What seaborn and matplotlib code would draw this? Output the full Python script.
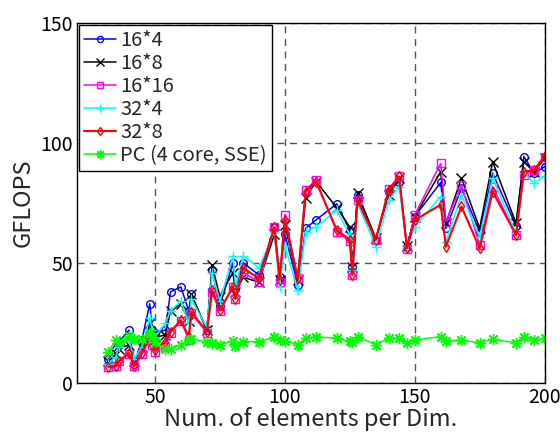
import numpy as np
import pandas as pd
import matplotlib
matplotlib.use('Agg')
import matplotlib.pyplot as plt
import seaborn as sns

# problem sizes (elements per dimension)
sizes = [32, 35, 36, 40, 42, 45, 48, 49, 50, 54, 56, 60, 63, 64, 70, 72, 75, 80, 81, 84,
         90, 96, 98, 100, 105, 108, 112, 120, 125, 126, 128, 135, 140, 144, 147, 150,
         160, 162, 168, 175, 180, 189, 192, 196, 200]

gf_16x4 = [10, 14, 17, 22, 8, 18, 33, 22, 21, 22, 38, 40, 30, 37, 22, 47, 32, 50, 39, 50,
           45, 65, 44, 62, 41, 64.4, 67.9, 74.6, 63.7, 48.5, 78.3, 59.6, 79.7, 83.9, 56.8, 69.3,
           83.5, 64.4, 81.1, 63, 87.4, 65.4, 94.3, 87.4, 90.1]
gf_16x8 = [9, 12, 14, 16, 9, 15, 25, 20, 19, 20, 30, 33, 26, 37, 22, 49, 36, 46, 38, 44,
           42, 62, 43, 66, 43, 77, 83.9, 73, 65, 48.5, 79, 60.3, 78.3, 85.4, 57, 69.3,
           88, 66.5, 85.3, 64.4, 92.2, 66.5, 92.2, 88, 93.6]
gf_16x16 = [6.5, 7, 9, 12, 7, 12, 18, 16, 13, 15, 21, 26, 18, 29, 21, 38, 30, 40, 35, 46,
            42, 65, 42, 70, 43.6, 80.4, 84.6, 63, 59, 45, 76, 59.6, 80.8, 86, 56, 70,
            91.5, 67.2, 82.5, 57.5, 81.8, 61.7, 86.7, 88.7, 94.3]
gf_32x4 = [8, 11, 15, 18, 10, 15, 27, 22, 19, 25, 30, 34, 25, 35, 23, 46, 34, 53, 40, 53,
           48, 63, 40, 57, 38.7, 63, 65, 72, 61.7, 47, 74.9, 56.8, 76, 81.8, 56.8, 65,
           77.6, 58.9, 78.3, 61, 85.3, 62.4, 87.4, 83.2, 86]
gf_32x8 = [6.8, 7, 9, 12.5, 7, 12.5, 19.3, 16, 13.7, 17.2, 21.4, 26.2, 19.3, 29.7, 21.4, 38.7, 30.4, 40, 35, 47.8,
           43.6, 64.9, 43, 67.9, 43.6, 79.7, 83.9, 63.7, 59.6, 45, 76.2, 59.6, 80.4, 86, 56.1, 67.9,
           74.2, 56.8, 73.5, 56.1, 79.7, 61.7, 88, 88.7, 94.6]
gf_pc = [13, 18, 17, 19.5, 18.5, 18.5, 21, 19, 17, 14, 14, 16, 18, 18.5, 17, 16.7, 16, 17.5, 15.5, 17.2,
         17.2, 19, 18, 17.5, 16, 18.6, 19.3, 18.6, 17.4, 17, 19.3, 16, 18.6, 18.6, 16.7, 17.9,
         19.3, 17.4, 17.9, 16.7, 18.2, 16.7, 19.3, 17.9, 18.6]

labels = ['16*4', '16*8', '16*16', '32*4', '32*8', 'PC (4 core, SSE)']
colors = ['#0000ff', '#000000', '#ff00ff', '#00ffff', '#ff0000', '#00ff00']
marks = ['o', 'x', 's', '+', 'd', (8, 2, 0)]
series = [gf_16x4, gf_16x8, gf_16x16, gf_32x4, gf_32x8, gf_pc]

sns.set_style('white')
plt.rcParams['font.family'] = ['Noto Sans CJK JP', 'DejaVu Sans']

fig = plt.figure(figsize=(5.6, 4.34), dpi=100)
ax = fig.add_axes([0.1375, 0.1175, 0.835, 0.83])

for vals, lab, c, m in zip(series, labels, colors, marks):
    df = pd.DataFrame({'n': sizes, 'gflops': vals})
    open_mark = m in ('o', 's', 'd')
    sns.lineplot(data=df, x='n', y='gflops', ax=ax, color=c, label=lab,
                 marker=m, markersize=7 if m in ('x', '+') else (8 if open_mark is False else 5.5),
                 markerfacecolor='none' if open_mark else c,
                 markeredgecolor=c, markeredgewidth=1.0,
                 linewidth=1.5 if c == '#ff0000' else 1.1,
                 sort=False, errorbar=None)

ax.set_xlim(20, 200)
ax.set_ylim(0, 150)
ax.set_xticks([50, 100, 150, 200])
ax.set_yticks([0, 50, 100, 150])
ax.grid(True, linestyle=(0, (5, 4)), color='#555555', linewidth=1.0)
ax.tick_params(direction='in', length=4, labelsize=14, colors='black', pad=3)
for s in ax.spines.values():
    s.set_color('black')
    s.set_linewidth(1.0)

ax.set_xlabel('Num. of elements per Dim.', fontsize=17, labelpad=-1)
ax.set_ylabel('GFLOPS', fontsize=17, labelpad=4)

leg = ax.legend(loc='upper left', fontsize=14.5, frameon=True, fancybox=False,
                edgecolor='black', framealpha=1, borderaxespad=0.1,
                handlelength=1.6, labelspacing=0.1, borderpad=0.25, handletextpad=0.2,
                markerscale=0.8)
leg.get_frame().set_linewidth(1.0)

plt.savefig('out.png', dpi=100)
